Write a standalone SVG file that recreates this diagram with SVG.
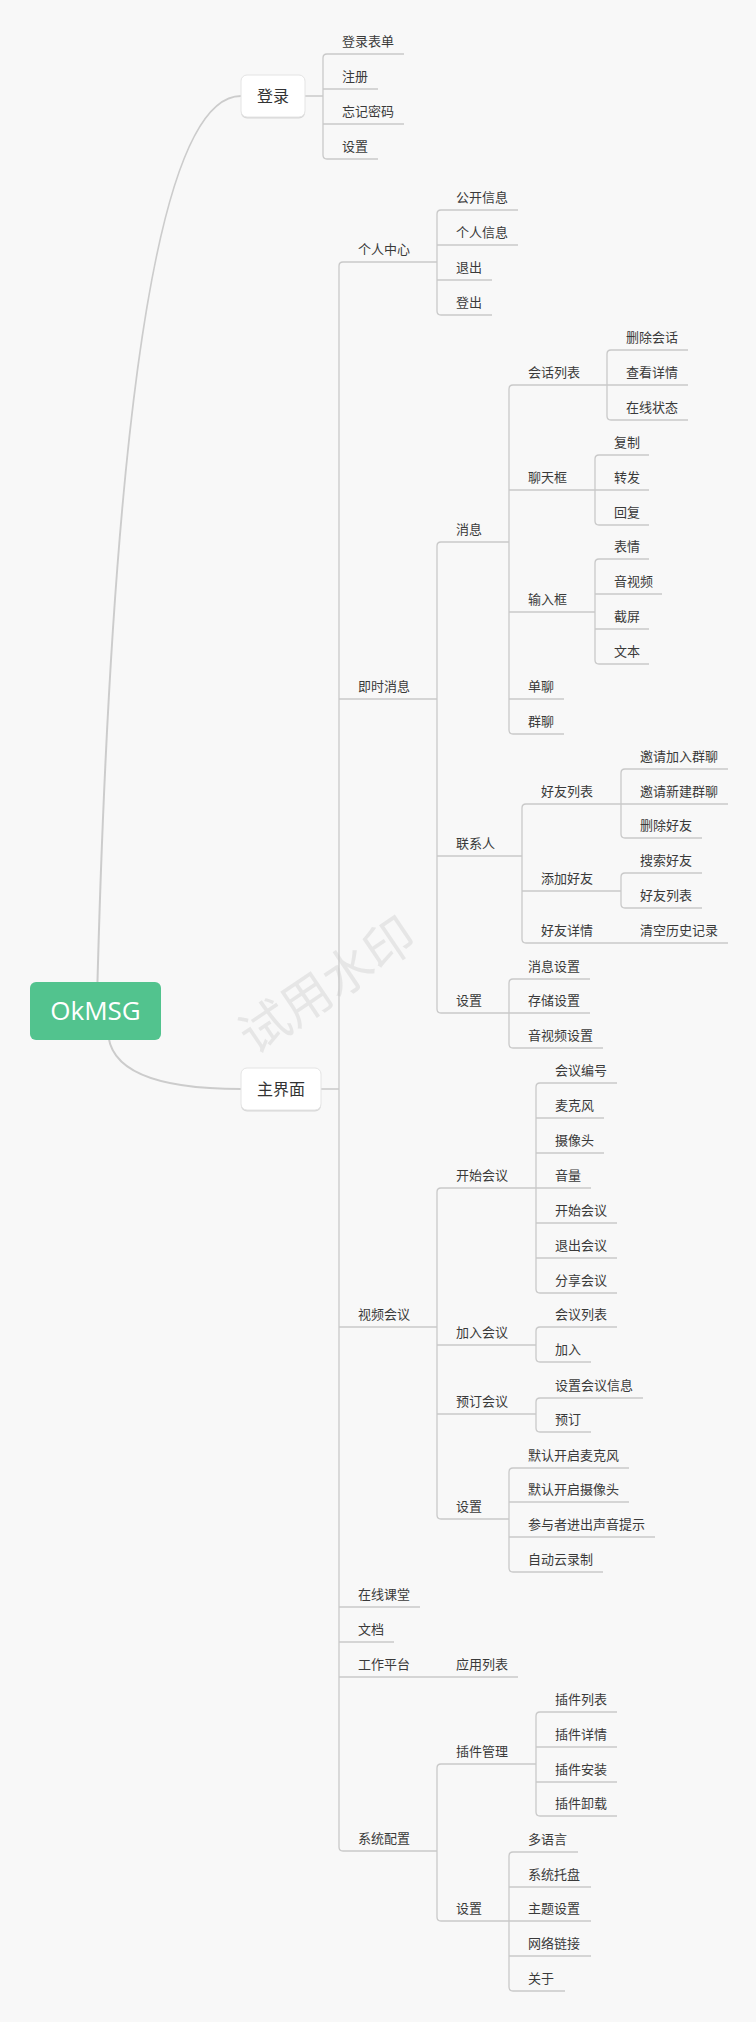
<svg xmlns="http://www.w3.org/2000/svg" width="756" height="2022" viewBox="0 0 756 2022">
<defs>
<style>
.bg{fill:#f8f8f8}
.ln{fill:none;stroke:#c9c9c9;stroke-width:1.3}
.cv{fill:none;stroke:#cccccc;stroke-width:2}
.t{font-family:"Noto Sans CJK SC","Liberation Sans",sans-serif;font-size:13px;fill:#3a3a3a}
.bt{font-family:"Noto Sans CJK SC","Liberation Sans",sans-serif;font-size:16px;fill:#333;text-anchor:middle}
.box{fill:#ffffff;stroke:#e4e4e4;stroke-width:1}
.sh{fill:#d6d6d6}
.wm{font-family:"Noto Sans CJK SC",sans-serif;font-size:50px;fill:#e6e6e6;text-anchor:middle}
</style>
</defs>
<rect class="bg" x="0" y="0" width="756" height="2022"/>
<text class="wm" transform="rotate(-34 327 985)" x="327" y="1003">试用水印</text>
<g id="connectors">
<path class="cv" d="M97 1000 Q120 96 241 96"/>
<path class="cv" d="M108 1030 Q108 1089 241 1089"/>
<path class="ln" d="M305 96 H323 M321 1089 H339"/>
<path class="ln" d="M327 54 Q323 54 323 58 V155 Q323 159 327 159"/>
<path class="ln" d="M343 262 Q339 262 339 266 V1847 Q339 1851 343 1851"/>
<path class="ln" d="M441 210 Q437 210 437 214 V311 Q437 315 441 315"/>
<path class="ln" d="M441 542 Q437 542 437 546 V1009 Q437 1013 441 1013"/>
<path class="ln" d="M513 385 Q509 385 509 389 V730 Q509 734 513 734"/>
<path class="ln" d="M611 350 Q607 350 607 354 V416 Q607 420 611 420"/>
<path class="ln" d="M599 455 Q595 455 595 459 V521 Q595 525 599 525"/>
<path class="ln" d="M599 559 Q595 559 595 563 V660 Q595 664 599 664"/>
<path class="ln" d="M526 804 Q522 804 522 808 V939 Q522 943 526 943"/>
<path class="ln" d="M625 769 Q621 769 621 773 V834 Q621 838 625 838"/>
<path class="ln" d="M625 873 Q621 873 621 877 V904 Q621 908 625 908"/>
<path class="ln" d="M513 979 Q509 979 509 983 V1044 Q509 1048 513 1048"/>
<path class="ln" d="M441 1188 Q437 1188 437 1192 V1515 Q437 1519 441 1519"/>
<path class="ln" d="M540 1083 Q536 1083 536 1087 V1289 Q536 1293 540 1293"/>
<path class="ln" d="M540 1327 Q536 1327 536 1331 V1358 Q536 1362 540 1362"/>
<path class="ln" d="M540 1398 Q536 1398 536 1402 V1428 Q536 1432 540 1432"/>
<path class="ln" d="M513 1468 Q509 1468 509 1472 V1568 Q509 1572 513 1572"/>
<path class="ln" d="M441 1764 Q437 1764 437 1768 V1917 Q437 1921 441 1921"/>
<path class="ln" d="M540 1712 Q536 1712 536 1716 V1812 Q536 1816 540 1816"/>
<path class="ln" d="M513 1852 Q509 1852 509 1856 V1987 Q509 1991 513 1991"/>
<path class="ln" d="M327 54 H404 M323 89 H378 M323 124 H404 M327 159 H378"/>
<path class="ln" d="M343 262 H437 M339 699 H437 M339 1327 H437 M339 1607 H420 M339 1642 H394 M339 1677 H518 M343 1851 H437"/>
<path class="ln" d="M441 210 H518 M437 245 H518 M437 280 H492 M441 315 H492"/>
<path class="ln" d="M441 542 H509 M437 856 H522 M441 1013 H509"/>
<path class="ln" d="M513 385 H607 M509 490 H595 M509 612 H595 M509 699 H564 M513 734 H564"/>
<path class="ln" d="M611 350 H688 M607 385 H688 M611 420 H688"/>
<path class="ln" d="M599 455 H649 M595 490 H649 M599 525 H649"/>
<path class="ln" d="M599 559 H649 M595 594 H662 M595 629 H649 M599 664 H649"/>
<path class="ln" d="M526 804 H621 M522 891 H621 M526 943 H728"/>
<path class="ln" d="M625 769 H728 M621 804 H728 M625 838 H702"/>
<path class="ln" d="M625 873 H702 M625 908 H702"/>
<path class="ln" d="M513 979 H590 M509 1013 H590 M513 1048 H603"/>
<path class="ln" d="M441 1188 H536 M437 1345 H536 M437 1414 H536 M441 1519 H509"/>
<path class="ln" d="M540 1083 H617 M536 1118 H604 M536 1153 H604 M536 1188 H591 M536 1223 H617 M536 1258 H617 M540 1293 H617"/>
<path class="ln" d="M540 1327 H617 M540 1362 H591 M540 1398 H643 M540 1432 H591"/>
<path class="ln" d="M513 1468 H629 M509 1502 H629 M509 1537 H655 M513 1572 H603"/>
<path class="ln" d="M441 1764 H536 M441 1921 H509"/>
<path class="ln" d="M540 1712 H617 M536 1747 H617 M536 1782 H617 M540 1816 H617"/>
<path class="ln" d="M513 1852 H578 M509 1887 H591 M509 1921 H591 M509 1956 H591 M513 1991 H565"/>
</g>
<g id="root"><rect x="30" y="982" width="131" height="58" rx="6" fill="#52c38e"/><text x="95.5" y="1020" font-family="'Open Sans','Liberation Sans',sans-serif" font-size="26" fill="#ffffff" text-anchor="middle">OkMSG</text></g>
<g id="login"><rect class="sh" x="241" y="76.5" width="64" height="42" rx="6"/><rect class="box" x="241" y="75" width="64" height="42" rx="6"/><text class="bt" x="273" y="102">登录</text></g>
<g id="main"><rect class="sh" x="241" y="1069.5" width="80" height="42" rx="6"/><rect class="box" x="241" y="1068" width="80" height="42" rx="6"/><text class="bt" x="281" y="1095">主界面</text></g>
<g id="l1"><text class="t" x="342" y="46">登录表单</text></g>
<g id="l2"><text class="t" x="342" y="81">注册</text></g>
<g id="l3"><text class="t" x="342" y="116">忘记密码</text></g>
<g id="l4"><text class="t" x="342" y="151">设置</text></g>
<g id="m1"><text class="t" x="358" y="254">个人中心</text></g>
<g id="m1a"><text class="t" x="456" y="202">公开信息</text></g>
<g id="m1b"><text class="t" x="456" y="237">个人信息</text></g>
<g id="m1c"><text class="t" x="456" y="272">退出</text></g>
<g id="m1d"><text class="t" x="456" y="307">登出</text></g>
<g id="m2"><text class="t" x="358" y="691">即时消息</text></g>
<g id="m2a"><text class="t" x="456" y="534">消息</text></g>
<g id="m2a1"><text class="t" x="528" y="377">会话列表</text></g>
<g id="m2a1a"><text class="t" x="626" y="342">删除会话</text></g>
<g id="m2a1b"><text class="t" x="626" y="377">查看详情</text></g>
<g id="m2a1c"><text class="t" x="626" y="412">在线状态</text></g>
<g id="m2a2"><text class="t" x="528" y="482">聊天框</text></g>
<g id="m2a2a"><text class="t" x="614" y="447">复制</text></g>
<g id="m2a2b"><text class="t" x="614" y="482">转发</text></g>
<g id="m2a2c"><text class="t" x="614" y="517">回复</text></g>
<g id="m2a3"><text class="t" x="528" y="604">输入框</text></g>
<g id="m2a3a"><text class="t" x="614" y="551">表情</text></g>
<g id="m2a3b"><text class="t" x="614" y="586">音视频</text></g>
<g id="m2a3c"><text class="t" x="614" y="621">截屏</text></g>
<g id="m2a3d"><text class="t" x="614" y="656">文本</text></g>
<g id="m2a4"><text class="t" x="528" y="691">单聊</text></g>
<g id="m2a5"><text class="t" x="528" y="726">群聊</text></g>
<g id="m2b"><text class="t" x="456" y="848">联系人</text></g>
<g id="m2b1"><text class="t" x="541" y="796">好友列表</text></g>
<g id="m2b1a"><text class="t" x="640" y="761">邀请加入群聊</text></g>
<g id="m2b1b"><text class="t" x="640" y="796">邀请新建群聊</text></g>
<g id="m2b1c"><text class="t" x="640" y="830">删除好友</text></g>
<g id="m2b2"><text class="t" x="541" y="883">添加好友</text></g>
<g id="m2b2a"><text class="t" x="640" y="865">搜索好友</text></g>
<g id="m2b2b"><text class="t" x="640" y="900">好友列表</text></g>
<g id="m2b3"><text class="t" x="541" y="935">好友详情</text></g>
<g id="m2b3a"><text class="t" x="640" y="935">清空历史记录</text></g>
<g id="m2c"><text class="t" x="456" y="1005">设置</text></g>
<g id="m2c1"><text class="t" x="528" y="971">消息设置</text></g>
<g id="m2c2"><text class="t" x="528" y="1005">存储设置</text></g>
<g id="m2c3"><text class="t" x="528" y="1040">音视频设置</text></g>
<g id="m3"><text class="t" x="358" y="1319">视频会议</text></g>
<g id="m3a"><text class="t" x="456" y="1180">开始会议</text></g>
<g id="m3a1"><text class="t" x="555" y="1075">会议编号</text></g>
<g id="m3a2"><text class="t" x="555" y="1110">麦克风</text></g>
<g id="m3a3"><text class="t" x="555" y="1145">摄像头</text></g>
<g id="m3a4"><text class="t" x="555" y="1180">音量</text></g>
<g id="m3a5"><text class="t" x="555" y="1215">开始会议</text></g>
<g id="m3a6"><text class="t" x="555" y="1250">退出会议</text></g>
<g id="m3a7"><text class="t" x="555" y="1285">分享会议</text></g>
<g id="m3b"><text class="t" x="456" y="1337">加入会议</text></g>
<g id="m3b1"><text class="t" x="555" y="1319">会议列表</text></g>
<g id="m3b2"><text class="t" x="555" y="1354">加入</text></g>
<g id="m3c"><text class="t" x="456" y="1406">预订会议</text></g>
<g id="m3c1"><text class="t" x="555" y="1390">设置会议信息</text></g>
<g id="m3c2"><text class="t" x="555" y="1424">预订</text></g>
<g id="m3d"><text class="t" x="456" y="1511">设置</text></g>
<g id="m3d1"><text class="t" x="528" y="1460">默认开启麦克风</text></g>
<g id="m3d2"><text class="t" x="528" y="1494">默认开启摄像头</text></g>
<g id="m3d3"><text class="t" x="528" y="1529">参与者进出声音提示</text></g>
<g id="m3d4"><text class="t" x="528" y="1564">自动云录制</text></g>
<g id="m4"><text class="t" x="358" y="1599">在线课堂</text></g>
<g id="m5"><text class="t" x="358" y="1634">文档</text></g>
<g id="m6"><text class="t" x="358" y="1669">工作平台</text></g>
<g id="m6a"><text class="t" x="456" y="1669">应用列表</text></g>
<g id="m7"><text class="t" x="358" y="1843">系统配置</text></g>
<g id="m7a"><text class="t" x="456" y="1756">插件管理</text></g>
<g id="m7a1"><text class="t" x="555" y="1704">插件列表</text></g>
<g id="m7a2"><text class="t" x="555" y="1739">插件详情</text></g>
<g id="m7a3"><text class="t" x="555" y="1774">插件安装</text></g>
<g id="m7a4"><text class="t" x="555" y="1808">插件卸载</text></g>
<g id="m7b"><text class="t" x="456" y="1913">设置</text></g>
<g id="m7b1"><text class="t" x="528" y="1844">多语言</text></g>
<g id="m7b2"><text class="t" x="528" y="1879">系统托盘</text></g>
<g id="m7b3"><text class="t" x="528" y="1913">主题设置</text></g>
<g id="m7b4"><text class="t" x="528" y="1948">网络链接</text></g>
<g id="m7b5"><text class="t" x="528" y="1983">关于</text></g>
</svg>
